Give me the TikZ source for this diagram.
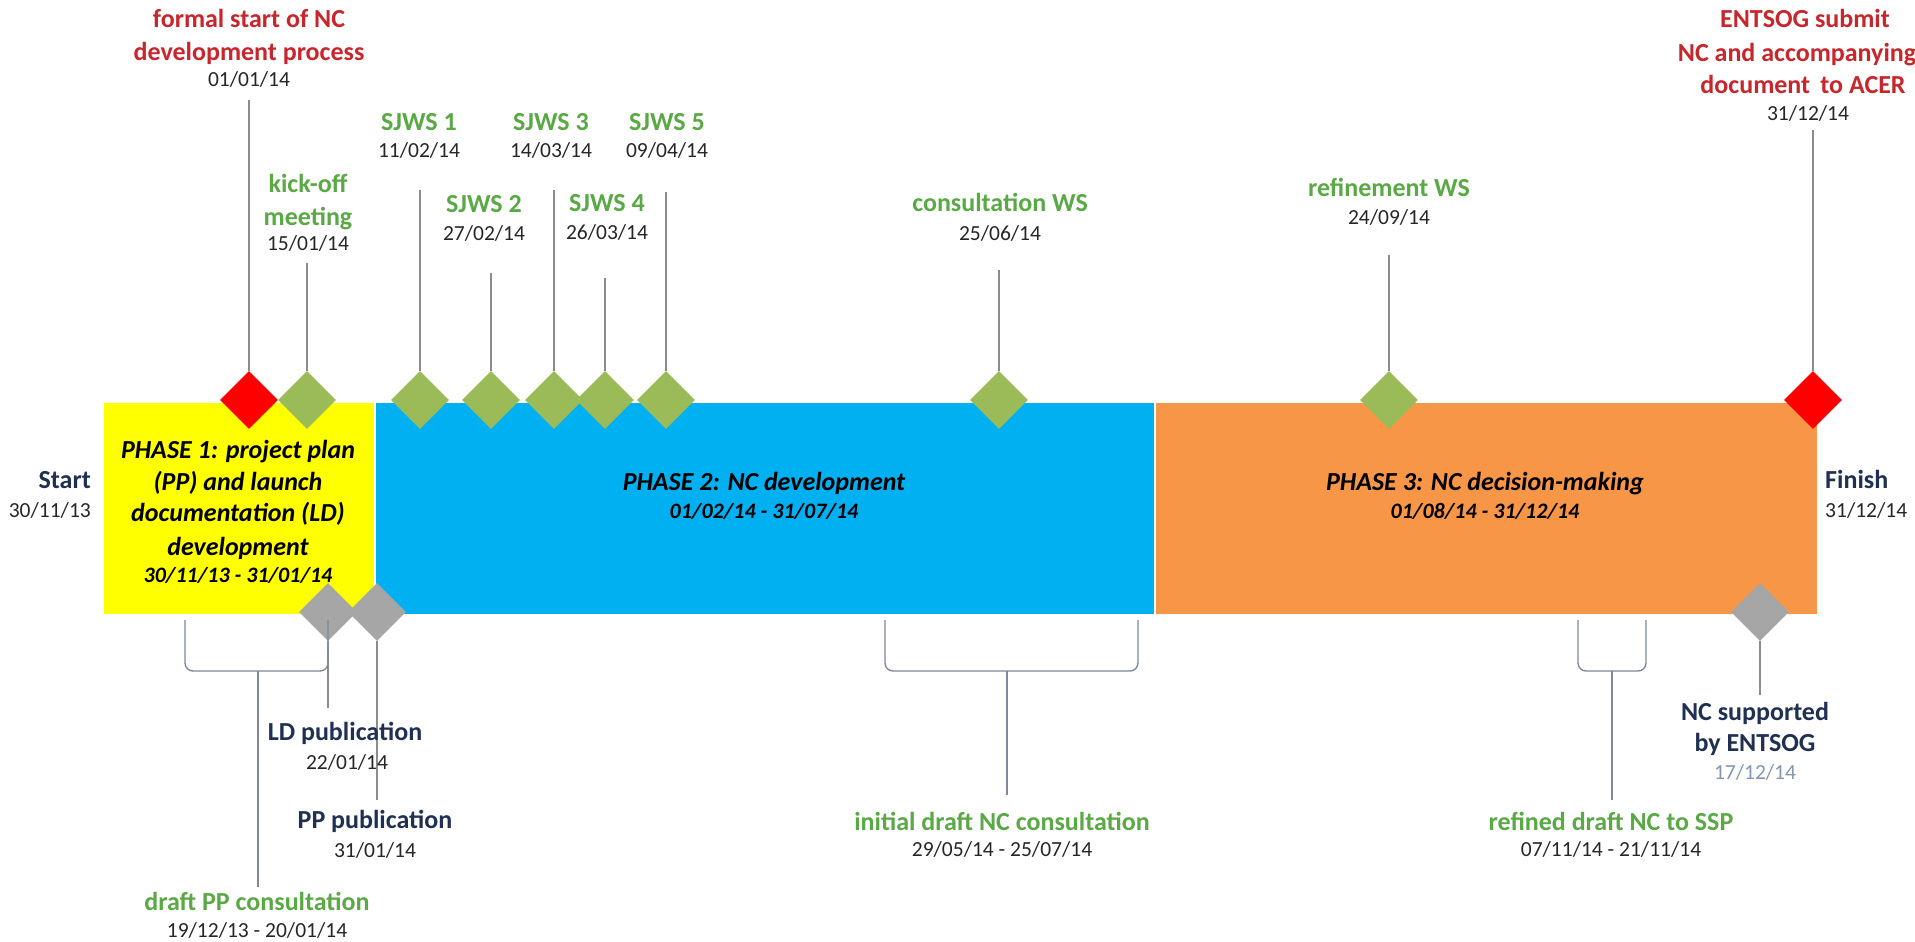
\documentclass[tikz,border=0pt]{standalone}
\usepackage{fontspec}
\setmainfont{Carlito}
\usetikzlibrary{shapes.geometric}
\definecolor{redtxt}{HTML}{C8262D}
\definecolor{grntxt}{HTML}{5AA846}
\definecolor{navtxt}{HTML}{1F3052}
\definecolor{datec}{HTML}{262626}
\definecolor{lightdate}{HTML}{8497B0}
\definecolor{yellowc}{HTML}{FFFF00}
\definecolor{bluec}{HTML}{00B0F0}
\definecolor{orangec}{HTML}{F79646}
\definecolor{msred}{HTML}{FF0000}
\definecolor{msgrn}{HTML}{9BBB59}
\definecolor{msgry}{HTML}{A6A6A6}
\definecolor{linec}{HTML}{8C8C8C}
\definecolor{brkc}{HTML}{7F8A99}
\tikzset{
  lbl/.style={font=\fontsize{26}{32}\selectfont\bfseries, inner sep=0, anchor=base},
  rlbl/.style={lbl, text=redtxt},
  glbl/.style={lbl, text=grntxt},
  nlbl/.style={lbl, text=navtxt},
  dte/.style={font=\fontsize{21.5}{26}\selectfont, text=datec, inner sep=0, anchor=base},
  ptxt/.style={font=\fontsize{26}{32}\selectfont\bfseries\itshape, inner sep=0, anchor=base, text=black},
  pdate/.style={font=\fontsize{22}{26}\selectfont\bfseries\itshape, inner sep=0, anchor=base, text=black},
  ms/.style={diamond, inner sep=0, minimum width=58, minimum height=58, draw=none},
  conn/.style={draw=linec, line width=1.3},
  brk/.style={draw=brkc, line width=1.4, rounded corners=8},
  phasebox/.style={rectangle, inner sep=0, draw=white, line width=1.5, anchor=north west}
}
\begin{document}
\begin{tikzpicture}[x=1pt,y=-1pt]
\useasboundingbox (0,0) rectangle (1915,942);
\fill[white] (0,0) rectangle (1915,942);

% ---------- phase boxes ----------
\node[phasebox, fill=yellowc, minimum width=272, minimum height=213] (p1) at (102,401) {};
\node[phasebox, fill=bluec, minimum width=780, minimum height=213] (p2) at (374,401) {};
\node[phasebox, fill=orangec, minimum width=663, minimum height=213] (p3) at (1154,401) {};

% ---------- top milestones (diamonds) ----------
\node[ms, fill=msred] (m0) at (249,400) {};
\node[ms, fill=msgrn] (m1) at (307,400) {};
\node[ms, fill=msgrn] (m2) at (420,400) {};
\node[ms, fill=msgrn] (m3) at (491,400) {};
\node[ms, fill=msgrn] (m4) at (554,400) {};
\node[ms, fill=msgrn] (m5) at (605,400) {};
\node[ms, fill=msgrn] (m6) at (666,400) {};
\node[ms, fill=msgrn] (m7) at (999,400) {};
\node[ms, fill=msgrn] (m8) at (1389,400) {};
\node[ms, fill=msred] (m9) at (1813,400) {};

% ---------- bottom milestones ----------
\node[ms, fill=msgry] (g1) at (328,612) {};
\node[ms, fill=msgry] (g2) at (377,612) {};
\node[ms, fill=msgry] (g3) at (1760,612) {};

% ---------- connector ends ----------
\coordinate (t0) at (249,100);
\coordinate (t1) at (307,263);
\coordinate (t2) at (420,190);
\coordinate (t3) at (491,273);
\coordinate (t4) at (554,190);
\coordinate (t5) at (605,278);
\coordinate (t6) at (666,192);
\coordinate (t7) at (999,270);
\coordinate (t8) at (1389,255);
\coordinate (t9) at (1813,130);
\foreach \i in {0,...,9} { \draw[conn] (t\i) -- (m\i.north); }

\coordinate (u1) at (328,708);
\coordinate (u2) at (377,800);
\coordinate (u3) at (1760,695);
\draw[conn] (g1.south) -- (u1);
\draw[conn] (g2.south) -- (u2);
\draw[conn] (g3.south) -- (u3);

% ---------- brackets ----------
\coordinate (a1) at (185,620); \coordinate (a2) at (185,671);
\coordinate (a3) at (328,671); \coordinate (a4) at (328,620);
\draw[brk] (a1) -- (a2) -- (a3) -- (a4);
\coordinate (am) at (258,671); \coordinate (ae) at (258,887);
\draw[brk] (am) -- (ae);

\coordinate (b1) at (885,620); \coordinate (b2) at (885,671);
\coordinate (b3) at (1138,671); \coordinate (b4) at (1138,620);
\draw[brk] (b1) -- (b2) -- (b3) -- (b4);
\coordinate (bm) at (1007,671); \coordinate (be) at (1007,795);
\draw[brk] (bm) -- (be);

\coordinate (c1) at (1578,620); \coordinate (c2) at (1578,671);
\coordinate (c3) at (1646,671); \coordinate (c4) at (1646,620);
\draw[brk] (c1) -- (c2) -- (c3) -- (c4);
\coordinate (cm) at (1612,671); \coordinate (ce) at (1612,800);
\draw[brk] (cm) -- (ce);

% ---------- phase texts ----------
\node[ptxt] (ph1a) at (238,458) {PHASE 1: project plan};
\node[ptxt] (ph1b) at (238,490) {(PP) and launch};
\node[ptxt] (ph1c) at (238,521) {documentation (LD)};
\node[ptxt] (ph1d) at (238,555) {development};
\node[pdate] (ph1e) at (238,582) {30/11/13 - 31/01/14};

\node[ptxt] (ph2a) at (764,490) {PHASE 2: NC development};
\node[pdate] (ph2b) at (764,518) {01/02/14 - 31/07/14};

\node[ptxt] (ph3a) at (1485,490) {PHASE 3: NC decision-making};
\node[pdate] (ph3b) at (1485,518) {01/08/14 - 31/12/14};

% ---------- start / finish ----------
\node[nlbl, anchor=base east] (st) at (91,488) {Start};
\node[dte, anchor=base east] (std) at (91,517) {30/11/13};
\node[nlbl, anchor=base west] (fi) at (1825,488) {Finish};
\node[dte, anchor=base west] (fid) at (1825,517) {31/12/14};

% ---------- top labels ----------
\node[rlbl] (l0a) at (249,28) {formal start of NC};
\node[rlbl] (l0b) at (249,60) {development process};
\node[dte] (l0d) at (249,87) {01/01/14};

\node[glbl] (l1a) at (308,192) {kick-off};
\node[glbl] (l1b) at (308,225) {meeting};
\node[dte] (l1d) at (308,250) {15/01/14};

\node[glbl] (l2a) at (419,130) {SJWS 1};
\node[dte] (l2d) at (419,157) {11/02/14};
\node[glbl] (l3a) at (484,212) {SJWS 2};
\node[dte] (l3d) at (484,240) {27/02/14};
\node[glbl] (l4a) at (551,130) {SJWS 3};
\node[dte] (l4d) at (551,157) {14/03/14};
\node[glbl] (l5a) at (607,211) {SJWS 4};
\node[dte] (l5d) at (607,239) {26/03/14};
\node[glbl] (l6a) at (667,130) {SJWS 5};
\node[dte] (l6d) at (667,157) {09/04/14};

\node[glbl] (l7a) at (1000,211) {consultation WS};
\node[dte] (l7d) at (1000,240) {25/06/14};
\node[glbl] (l8a) at (1389,196) {refinement WS};
\node[dte] (l8d) at (1389,224) {24/09/14};

\node[rlbl] (l9a) at (1805,28) {ENTSOG submit};
\node[rlbl] (l9b) at (1797,62) {NC and accompanying};
\node[rlbl] (l9c) at (1803,93) {document\, to ACER};
\node[dte] (l9d) at (1808,120) {31/12/14};

% ---------- bottom labels ----------
\node[nlbl] (q1a) at (345,740) {LD publication};
\node[dte] (q1d) at (347,769) {22/01/14};
\node[nlbl] (q2a) at (375,828) {PP publication};
\node[dte] (q2d) at (375,857) {31/01/14};
\node[glbl] (q3a) at (257,910) {draft PP consultation};
\node[dte] (q3d) at (257,937) {19/12/13 - 20/01/14};
\node[glbl] (q4a) at (1002,830) {initial draft NC consultation};
\node[dte] (q4d) at (1002,856) {29/05/14 - 25/07/14};
\node[glbl] (q5a) at (1611,830) {refined draft NC to SSP};
\node[dte] (q5d) at (1611,856) {07/11/14 - 21/11/14};
\node[nlbl] (q6a) at (1755,720) {NC supported};
\node[nlbl] (q6b) at (1755,751) {by ENTSOG};
\node[dte, text=lightdate] (q6d) at (1755,779) {17/12/14};
\end{tikzpicture}
\end{document}
